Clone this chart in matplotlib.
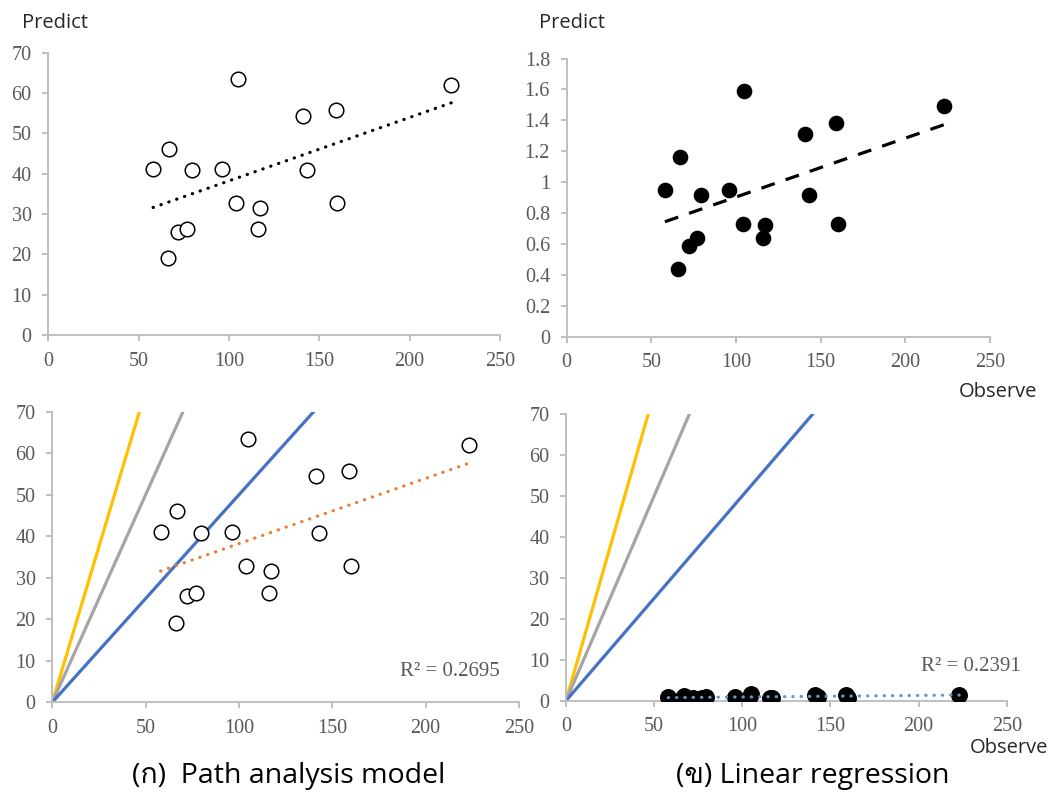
import matplotlib
matplotlib.use("Agg")
import matplotlib.pyplot as plt
import numpy as np
from matplotlib import font_manager, ft2font
from matplotlib.ticker import MultipleLocator, FuncFormatter

# ---- data -------------------------------------------------------------
observed = [58, 67, 66, 72, 77, 79.5, 96, 105, 104, 117, 116, 141, 143, 159, 160, 223]
path_model = [41.1, 46.2, 19.0, 25.6, 26.4, 40.9, 41.1, 63.4, 32.8, 31.6, 26.4,
              54.4, 40.9, 55.8, 32.8, 62.0]
linear_reg = [0.95, 1.16, 0.44, 0.59, 0.64, 0.92, 0.95, 1.59, 0.73, 0.72, 0.64,
              1.31, 0.92, 1.38, 0.73, 1.49]
ref_slopes = [1.5, 1.0, 0.5]
ref_colors = ["#FFC000", "#A5A5A5", "#4472C4"]
r2_labels = ["R² = 0.2695", "R² = 0.2391"]
captions = ["(ก)  Path analysis model", "(ข) Linear regression"]

W, H = 1053, 794
fig = plt.figure(figsize=(W / 100, H / 100), dpi=100)


def box(x0, y0, x1, y1):
    """Axes rectangle from pixel corners (origin top-left)."""
    return [x0 / W, 1 - y1 / H, (x1 - x0) / W, (y1 - y0) / H]


def thai_family():
    for f in font_manager.fontManager.ttflist:
        try:
            cmap = ft2font.FT2Font(f.fname).get_charmap()
        except Exception:
            continue
        if 0x0E01 in cmap and 0x0E02 in cmap:
            return f.name
    return "DejaVu Sans"


SANS = ["Open Sans", thai_family(), "DejaVu Sans"]
SERIF = "Liberation Serif"
AX_GRAY = "#BFBFBF"
TXT_GRAY = "#595959"


def style(ax, ymax, ystep, fmt=None):
    ax.set_xlim(0, 250)
    ax.set_ylim(0, ymax)
    ax.xaxis.set_major_locator(MultipleLocator(50))
    ax.yaxis.set_major_locator(MultipleLocator(ystep))
    if fmt:
        ax.yaxis.set_major_formatter(FuncFormatter(fmt))
    for s in ("top", "right"):
        ax.spines[s].set_visible(False)
    for s in ("left", "bottom"):
        ax.spines[s].set_color(AX_GRAY)
        ax.spines[s].set_linewidth(1.4)
    ax.tick_params(direction="out", length=4.5, width=1.4, color=AX_GRAY,
                   labelcolor=TXT_GRAY, labelsize=14.5, pad=7.5)
    for lab in ax.get_xticklabels() + ax.get_yticklabels():
        lab.set_fontfamily(SERIF)
    ax.set_facecolor("none")


def trend(ax, x, y, **kw):
    x = np.asarray(x, float)
    y = np.asarray(y, float)
    k, b = np.polyfit(x, y, 1)
    xs = np.array([x.min(), x.max()])
    ax.plot(xs, k * xs + b, **kw)


dotted = dict(linestyle=(0, (0.1, 2.5)), dash_capstyle="round", linewidth=2.3)

# top-left: path analysis model
ax1 = fig.add_axes(box(48.3, 52.7, 500, 335))
style(ax1, 70, 10)
ax1.scatter(observed, path_model, s=110, facecolor="white", edgecolor="black",
            linewidth=1.1, zorder=3)
trend(ax1, observed, path_model, color="black", zorder=4, **dotted)

# top-right: linear regression
ax2 = fig.add_axes(box(566.7, 58.5, 990, 336.7))
style(ax2, 1.8, 0.2, lambda v, p: f"{v:g}")
ax2.scatter(observed, linear_reg, s=105, color="black", zorder=3)
trend(ax2, observed, linear_reg, color="black", linewidth=2.3,
      linestyle=(0, (4.4, 3.6)), zorder=4)

# bottom row: both models against reference lines through the origin
ax3 = fig.add_axes(box(52.3, 411.7, 519, 702.3))
style(ax3, 70, 10)
ax4 = fig.add_axes(box(566, 414, 1006.7, 700.7))
style(ax4, 70, 10)
for ax in (ax3, ax4):
    for k, c in zip(ref_slopes, ref_colors):
        xs = np.array([0, 250])
        ax.plot(xs, k * xs, color=c, linewidth=2.3, zorder=2)

ax3.scatter(observed, path_model, s=110, facecolor="white", edgecolor="black",
            linewidth=1.1, zorder=3)
trend(ax3, observed, path_model, color="#ED7D31", zorder=4, **dotted)
ax3.text(0.959, 0.105, r2_labels[0], transform=ax3.transAxes, ha="right",
         va="center", fontsize=15, color=TXT_GRAY, family=SERIF)

ax4.scatter(observed, linear_reg, s=125, color="black", zorder=3)
trend(ax4, observed, linear_reg, color="#5B9BD5", zorder=4, **dotted)
ax4.text(1.032, 0.119, r2_labels[1], transform=ax4.transAxes, ha="right",
         va="center", fontsize=15, color=TXT_GRAY, family=SERIF, clip_on=False)

# axis captions
LAB = dict(fontsize=14.5, color="#262626", family=SANS)
fig.text(21.7 / W, 1 - 23 / H, "Predict", ha="left", va="center", **LAB)
fig.text(539 / W, 1 - 23 / H, "Predict", ha="left", va="center", **LAB)
fig.text(1036.7 / W, 1 - 392 / H, "Observe", ha="right", va="center", **LAB)
fig.text(1048 / W, 1 - 748 / H, "Observe", ha="right", va="center", **LAB)

# panel titles
fig.text(289 / W, 1 - 776 / H, captions[0], ha="center", va="center",
         fontsize=20.5, color="black", family=SANS)
fig.text(813 / W, 1 - 776 / H, captions[1], ha="center", va="center",
         fontsize=20.5, color="black", family=SANS)

fig.savefig("out.png", dpi=100)
